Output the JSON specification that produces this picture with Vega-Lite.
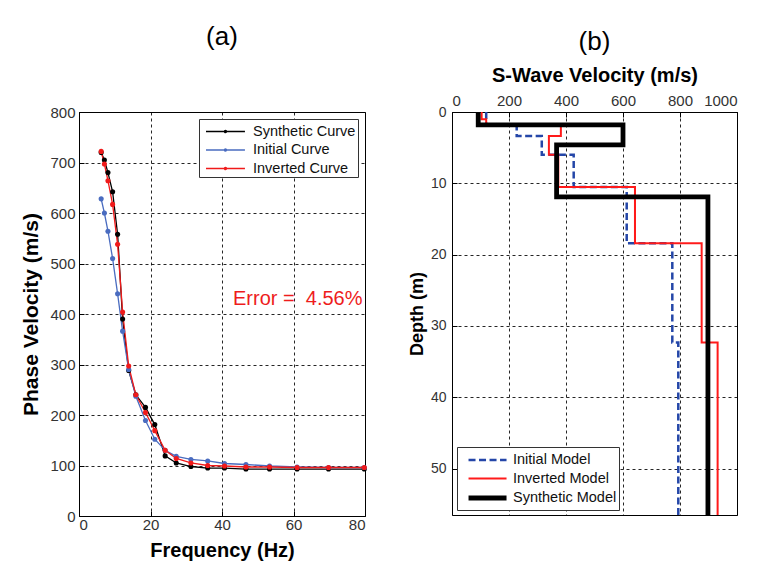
{
  "$schema": "https://vega.github.io/schema/vega-lite/v6.json",
  "background": "white",
  "padding": {"left": 20, "top": 23, "right": 0, "bottom": 0},
  "spacing": 39,
  "resolve": {
    "scale": {"color": "independent", "strokeDash": "independent", "strokeWidth": "independent"},
    "legend": {"color": "independent", "strokeDash": "independent", "strokeWidth": "independent"}
  },
  "config": {
    "font": "Liberation Sans",
    "view": {"stroke": "#000", "strokeWidth": 1},
    "axis": {
      "grid": true, "gridDash": [3, 3], "gridColor": "#000", "gridOpacity": 0.85, "gridWidth": 1,
      "domain": false, "tickSize": -5, "tickColor": "#000", "labelPadding": 9,
      "labelFontSize": 15, "labelColor": "#333", "labelFont": "Liberation Sans",
      "titleFontSize": 20, "titleFontWeight": "bold", "titleColor": "#000", "titleFont": "Liberation Sans"
    },
    "title": {"fontWeight": "normal", "fontSize": 26, "color": "#000", "font": "Liberation Sans"},
    "legend": {"labelFont": "Liberation Sans", "labelColor": "#111"}
  },
  "hconcat": [
    {
      "width": 286,
      "height": 404,
      "title": {"text": "(a)", "offset": 55},
      "data": {"values": [
        {"freq": 6.2, "vel": 720, "curve": "Synthetic Curve"},
        {"freq": 7.1, "vel": 705, "curve": "Synthetic Curve"},
        {"freq": 8.1, "vel": 680, "curve": "Synthetic Curve"},
        {"freq": 9.4, "vel": 642, "curve": "Synthetic Curve"},
        {"freq": 10.8, "vel": 558, "curve": "Synthetic Curve"},
        {"freq": 12.2, "vel": 390, "curve": "Synthetic Curve"},
        {"freq": 13.9, "vel": 288, "curve": "Synthetic Curve"},
        {"freq": 15.9, "vel": 240, "curve": "Synthetic Curve"},
        {"freq": 18.6, "vel": 215, "curve": "Synthetic Curve"},
        {"freq": 21.2, "vel": 181, "curve": "Synthetic Curve"},
        {"freq": 24.1, "vel": 119, "curve": "Synthetic Curve"},
        {"freq": 27.2, "vel": 105, "curve": "Synthetic Curve"},
        {"freq": 31.3, "vel": 98, "curve": "Synthetic Curve"},
        {"freq": 36.0, "vel": 95, "curve": "Synthetic Curve"},
        {"freq": 40.7, "vel": 95, "curve": "Synthetic Curve"},
        {"freq": 46.7, "vel": 93, "curve": "Synthetic Curve"},
        {"freq": 53.3, "vel": 93, "curve": "Synthetic Curve"},
        {"freq": 61.0, "vel": 93, "curve": "Synthetic Curve"},
        {"freq": 69.8, "vel": 93, "curve": "Synthetic Curve"},
        {"freq": 79.8, "vel": 93, "curve": "Synthetic Curve"},
        {"freq": 6.2, "vel": 628, "curve": "Initial Curve"},
        {"freq": 7.1, "vel": 600, "curve": "Initial Curve"},
        {"freq": 8.1, "vel": 564, "curve": "Initial Curve"},
        {"freq": 9.4, "vel": 510, "curve": "Initial Curve"},
        {"freq": 10.8, "vel": 440, "curve": "Initial Curve"},
        {"freq": 12.2, "vel": 366, "curve": "Initial Curve"},
        {"freq": 13.9, "vel": 290, "curve": "Initial Curve"},
        {"freq": 15.9, "vel": 237, "curve": "Initial Curve"},
        {"freq": 18.6, "vel": 189, "curve": "Initial Curve"},
        {"freq": 21.2, "vel": 152, "curve": "Initial Curve"},
        {"freq": 24.1, "vel": 130, "curve": "Initial Curve"},
        {"freq": 27.2, "vel": 118, "curve": "Initial Curve"},
        {"freq": 31.3, "vel": 112, "curve": "Initial Curve"},
        {"freq": 36.0, "vel": 109, "curve": "Initial Curve"},
        {"freq": 40.7, "vel": 104, "curve": "Initial Curve"},
        {"freq": 46.7, "vel": 102, "curve": "Initial Curve"},
        {"freq": 53.3, "vel": 99, "curve": "Initial Curve"},
        {"freq": 61.0, "vel": 97, "curve": "Initial Curve"},
        {"freq": 69.8, "vel": 96, "curve": "Initial Curve"},
        {"freq": 79.8, "vel": 96, "curve": "Initial Curve"},
        {"freq": 6.2, "vel": 722, "curve": "Inverted Curve"},
        {"freq": 7.1, "vel": 697, "curve": "Inverted Curve"},
        {"freq": 8.1, "vel": 664, "curve": "Inverted Curve"},
        {"freq": 9.4, "vel": 617, "curve": "Inverted Curve"},
        {"freq": 10.8, "vel": 538, "curve": "Inverted Curve"},
        {"freq": 12.2, "vel": 404, "curve": "Inverted Curve"},
        {"freq": 13.9, "vel": 297, "curve": "Inverted Curve"},
        {"freq": 15.9, "vel": 240, "curve": "Inverted Curve"},
        {"freq": 18.6, "vel": 205, "curve": "Inverted Curve"},
        {"freq": 21.2, "vel": 169, "curve": "Inverted Curve"},
        {"freq": 24.1, "vel": 130, "curve": "Inverted Curve"},
        {"freq": 27.2, "vel": 114, "curve": "Inverted Curve"},
        {"freq": 31.3, "vel": 105, "curve": "Inverted Curve"},
        {"freq": 36.0, "vel": 100, "curve": "Inverted Curve"},
        {"freq": 40.7, "vel": 99, "curve": "Inverted Curve"},
        {"freq": 46.7, "vel": 97, "curve": "Inverted Curve"},
        {"freq": 53.3, "vel": 97, "curve": "Inverted Curve"},
        {"freq": 61.0, "vel": 96, "curve": "Inverted Curve"},
        {"freq": 69.8, "vel": 96, "curve": "Inverted Curve"},
        {"freq": 79.8, "vel": 96, "curve": "Inverted Curve"}
      ]},
      "layer": [
        {
          "mark": {"type": "line", "strokeWidth": 1.3, "point": {"filled": true, "size": 26}},
          "encoding": {
            "x": {"field": "freq", "type": "quantitative",
                  "scale": {"domain": [0, 80], "nice": false},
                  "axis": {"title": "Frequency (Hz)", "values": [0, 20, 40, 60, 80], "labelPadding": 6, "titlePadding": 8}},
            "y": {"field": "vel", "type": "quantitative",
                  "scale": {"domain": [0, 800], "nice": false},
                  "axis": {"title": "Phase Velocity (m/s)", "titleFontSize": 21, "values": [0, 100, 200, 300, 400, 500, 600, 700, 800], "titlePadding": 8}},
            "color": {"field": "curve", "type": "nominal",
                      "scale": {"domain": ["Synthetic Curve", "Initial Curve", "Inverted Curve"], "range": ["#000000", "#4a6cc0", "#f01a1a"]},
                      "legend": {"title": null, "orient": "top-right", "offset": 7,
                                 "symbolType": "M-0.58,0L3.52,0M1.37,0a0.1,0.1 0 1,0 0.2,0a0.1,0.1 0 1,0 -0.2,0",
                                 "symbolSize": 361, "symbolStrokeWidth": 1.5, "labelOffset": 31,
                                 "labelFontSize": 14.5, "strokeColor": "#333", "fillColor": "white",
                                 "padding": 2, "rowPadding": 1.5}}
          }
        },
        {
          "data": {"values": [{"freq": 79.3, "vel": 430, "label": "Error =\u00a0\u00a04.56%"}]},
          "mark": {"type": "text", "align": "right", "baseline": "middle", "fontSize": 20, "color": "#ee1c1c"},
          "encoding": {
            "x": {"field": "freq", "type": "quantitative"},
            "y": {"field": "vel", "type": "quantitative"},
            "text": {"field": "label"}
          }
        }
      ]
    },
    {
      "width": 285,
      "height": 403,
      "title": {"text": "(b)", "offset": 10},
      "data": {"values": [
        {"model": "Initial Model", "i": 0, "vel": 120, "depth": 0},
        {"model": "Initial Model", "i": 1, "vel": 120, "depth": 1.8},
        {"model": "Initial Model", "i": 2, "vel": 227, "depth": 1.8},
        {"model": "Initial Model", "i": 3, "vel": 227, "depth": 3.37},
        {"model": "Initial Model", "i": 4, "vel": 315, "depth": 3.37},
        {"model": "Initial Model", "i": 5, "vel": 315, "depth": 6.0},
        {"model": "Initial Model", "i": 6, "vel": 427, "depth": 6.0},
        {"model": "Initial Model", "i": 7, "vel": 427, "depth": 10.5},
        {"model": "Initial Model", "i": 8, "vel": 613, "depth": 10.5},
        {"model": "Initial Model", "i": 9, "vel": 613, "depth": 18.4},
        {"model": "Initial Model", "i": 10, "vel": 773, "depth": 18.4},
        {"model": "Initial Model", "i": 11, "vel": 773, "depth": 32.3},
        {"model": "Initial Model", "i": 12, "vel": 794, "depth": 32.3},
        {"model": "Initial Model", "i": 13, "vel": 794, "depth": 56.5},
        {"model": "Inverted Model", "i": 0, "vel": 104, "depth": 0},
        {"model": "Inverted Model", "i": 1, "vel": 104, "depth": 1.0},
        {"model": "Inverted Model", "i": 2, "vel": 120, "depth": 1.0},
        {"model": "Inverted Model", "i": 3, "vel": 120, "depth": 1.8},
        {"model": "Inverted Model", "i": 4, "vel": 382, "depth": 1.8},
        {"model": "Inverted Model", "i": 5, "vel": 382, "depth": 3.37},
        {"model": "Inverted Model", "i": 6, "vel": 340, "depth": 3.37},
        {"model": "Inverted Model", "i": 7, "vel": 340, "depth": 6.0},
        {"model": "Inverted Model", "i": 8, "vel": 373, "depth": 6.0},
        {"model": "Inverted Model", "i": 9, "vel": 373, "depth": 10.5},
        {"model": "Inverted Model", "i": 10, "vel": 642, "depth": 10.5},
        {"model": "Inverted Model", "i": 11, "vel": 642, "depth": 18.4},
        {"model": "Inverted Model", "i": 12, "vel": 876, "depth": 18.4},
        {"model": "Inverted Model", "i": 13, "vel": 876, "depth": 32.3},
        {"model": "Inverted Model", "i": 14, "vel": 932, "depth": 32.3},
        {"model": "Inverted Model", "i": 15, "vel": 932, "depth": 56.5},
        {"model": "Synthetic Model", "i": 0, "vel": 92, "depth": 0},
        {"model": "Synthetic Model", "i": 1, "vel": 92, "depth": 1.8},
        {"model": "Synthetic Model", "i": 2, "vel": 600, "depth": 1.8},
        {"model": "Synthetic Model", "i": 3, "vel": 600, "depth": 4.6},
        {"model": "Synthetic Model", "i": 4, "vel": 367, "depth": 4.6},
        {"model": "Synthetic Model", "i": 5, "vel": 367, "depth": 11.9},
        {"model": "Synthetic Model", "i": 6, "vel": 898, "depth": 11.9},
        {"model": "Synthetic Model", "i": 7, "vel": 898, "depth": 56.5}
      ]},
      "mark": {"type": "line"},
      "encoding": {
        "x": {"field": "vel", "type": "quantitative",
              "scale": {"domain": [0, 1000], "nice": false},
              "axis": {"orient": "top", "title": "S-Wave Velocity (m/s)", "format": "d", "values": [0, 200, 400, 600, 800, 1000], "titlePadding": 8}},
        "y": {"field": "depth", "type": "quantitative",
              "scale": {"domain": [0, 56.5], "nice": false, "reverse": true},
              "axis": {"title": "Depth (m)", "values": [0, 10, 20, 30, 40, 50], "labelFontSize": 14, "titleFontSize": 18, "titlePadding": 4, "labelPadding": 11}},
        "color": {"field": "model", "type": "nominal",
                  "scale": {"domain": ["Initial Model", "Inverted Model", "Synthetic Model"], "range": ["#2446a8", "#ff1a1a", "#000000"]},
                  "legend": {"title": null, "orient": "bottom-left", "offset": 5,
                             "symbolType": "M-0.26,0L3.74,0", "symbolSize": 361, "labelOffset": 30,
                             "labelFontSize": 14.5, "strokeColor": "#333", "fillColor": "white",
                             "padding": 2, "rowPadding": 1}},
        "strokeDash": {"field": "model", "type": "nominal",
                       "scale": {"domain": ["Initial Model", "Inverted Model", "Synthetic Model"], "range": [[7, 3.5], [1, 0], [1, 0]]}},
        "strokeWidth": {"field": "model", "type": "nominal",
                        "scale": {"type": "ordinal", "domain": ["Initial Model", "Inverted Model", "Synthetic Model"], "range": [2.5, 2, 4.8]}},
        "order": {"field": "i", "type": "quantitative"}
      }
    }
  ]
}
